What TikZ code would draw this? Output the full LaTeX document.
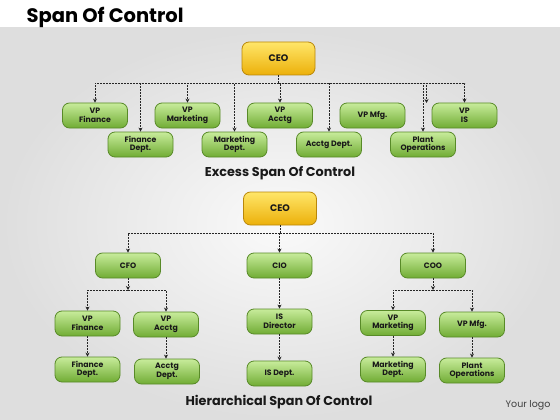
\documentclass[tikz,border=0pt]{standalone}
\usepackage{fontspec}
\setmainfont{Poppins}
\usetikzlibrary{arrows.meta}

\definecolor{boxtop}{RGB}{200,236,155}
\definecolor{boxbot}{RGB}{112,172,52}
\definecolor{boxline}{RGB}{88,138,40}
\definecolor{ceotop}{RGB}{255,230,105}
\definecolor{ceobot}{RGB}{236,176,10}
\definecolor{ceoline}{RGB}{185,135,10}

\begin{document}
\begin{tikzpicture}[x=1pt,y=-1pt,
  post/.style={draw=boxline,line width=0.8pt,rounded corners=7pt,
    top color=boxtop,bottom color=boxbot,minimum width=65pt,minimum height=25pt,
    inner sep=1pt,align=center,font=\bfseries\fontsize{7.8}{8.6}\selectfont,text=black!90},
  ceobox/.style={post,draw=ceoline,top color=ceotop,bottom color=ceobot,
    minimum width=73pt,minimum height=33pt,font=\bfseries\fontsize{9.5}{10}\selectfont},
  link/.style={draw=black!85,line width=0.8pt,dash pattern=on 2pt off 1pt},
  tip/.style={-{Stealth[length=4pt,width=4pt]}},
  heading/.style={font=\bfseries\fontsize{12.8}{13}\selectfont,text=black!90}]
  \useasboundingbox (0,0) rectangle (560,420);
  \fill[white] (0,0) rectangle (560,28);
  \shade[inner color=black!2,outer color=black!13] (0,28) rectangle (560,420);
  \node[anchor=west,font=\bfseries\fontsize{19.5}{20}\selectfont] (title) at (23,17) {Span Of Control};

  % excess span
  \node[ceobox] (ceoA) at (278.5,58.5) {CEO};
  \coordinate (busA) at (0,83);
  \node[post] (vpfin) at (95,115.5) {VP\\Finance};
  \node[post] (vpmkt) at (187.5,115.5) {VP\\Marketing};
  \node[post] (vpacc) at (280,115.5) {VP\\Acctg};
  \node[post] (vpmfg) at (372.5,115.5) {VP Mfg.};
  \node[post] (vpis) at (464.5,115.5) {VP\\IS};
  \node[post] (findept) at (140.5,144.5) {Finance\\Dept.};
  \node[post] (mktdept) at (234.5,144.5) {Marketing\\Dept.};
  \node[post] (accdept) at (329,144.5) {Acctg Dept.};
  \node[post] (plantops) at (423,144.5) {Plant\\Operations};
  \coordinate (mfgend) at (426.5,103);
  \draw[link] (ceoA.south) -- (ceoA.south |- busA);
  \draw[link,tip] (ceoA.south |- busA) -| (vpfin.north);
  \draw[link,tip] (ceoA.south |- busA) -| (findept.north);
  \draw[link,tip] (ceoA.south |- busA) -| (vpmkt.north);
  \draw[link,tip] (ceoA.south |- busA) -| (mktdept.north);
  \draw[link,tip] (ceoA.south |- busA) -| (vpacc.north);
  \draw[link,tip] (ceoA.south |- busA) -| (accdept.north);
  \draw[link,tip] (ceoA.south |- busA) -| (plantops.north);
  \draw[link,tip] (ceoA.south |- busA) -| (mfgend);
  \draw[link,tip] (ceoA.south |- busA) -| (vpis.north);
  \node[heading] (excess) at (280,173) {Excess Span Of Control};

  % hierarchical span
  \node[ceobox] (ceoB) at (280,208.5) {CEO};
  \coordinate (busB) at (0,233);
  \node[post] (cfo) at (128,265.5) {CFO};
  \node[post] (cio) at (279.5,265.5) {CIO};
  \node[post] (coo) at (433,265.5) {COO};
  \draw[link] (ceoB.south) -- (ceoB.south |- busB);
  \draw[link,tip] (ceoB.south |- busB) -| (cfo.north);
  \draw[link,tip] (ceoB.south |- busB) -| (cio.north);
  \draw[link,tip] (ceoB.south |- busB) -| (coo.north);

  \coordinate (busC) at (0,290);
  \node[post] (vpfinB) at (87.5,323.5) {VP\\Finance};
  \node[post] (vpaccB) at (166,324.5) {VP\\Acctg};
  \node[post] (findeptB) at (87.5,369.5) {Finance\\Dept.};
  \node[post] (accdeptB) at (167,371.5) {Acctg\\Dept.};
  \draw[link,tip] (cfo.south) -- (cfo.south |- busC);
  \draw[link,tip] (cfo.south |- busC) -| (vpfinB.north);
  \draw[link,tip] (cfo.south |- busC) -| (vpaccB.north);
  \draw[link,tip] (vpfinB) -- (findeptB);
  \draw[link,tip] (vpaccB.south) -- (vpaccB.south |- accdeptB.north);

  \node[post] (isdir) at (279.5,321.5) {IS\\Director};
  \node[post] (isdept) at (279.5,373.5) {IS Dept.};
  \draw[link,tip] (cio) -- (isdir);
  \draw[link,tip] (isdir) -- (isdept);

  \node[post] (vpmktB) at (393,323) {VP\\Marketing};
  \node[post] (vpmfgB) at (472,324.5) {VP Mfg.};
  \node[post] (mktdeptB) at (393,369.5) {Marketing\\Dept.};
  \node[post] (plantopsB) at (472,370.5) {Plant\\Operations};
  \draw[link,tip] (coo.south) -- (coo.south |- busC);
  \draw[link,tip] (coo.south |- busC) -| (vpmktB.north);
  \draw[link,tip] (coo.south |- busC) -| (vpmfgB.north);
  \draw[link,tip] (vpmktB) -- (mktdeptB);
  \draw[link,tip] (vpmfgB) -- (plantopsB);

  \node[heading] (hier) at (279,402) {Hierarchical Span Of Control};
  \node[font=\fontsize{9.5}{10}\selectfont,text=black!75] (logo) at (528,405) {Your logo};
\end{tikzpicture}
\end{document}
